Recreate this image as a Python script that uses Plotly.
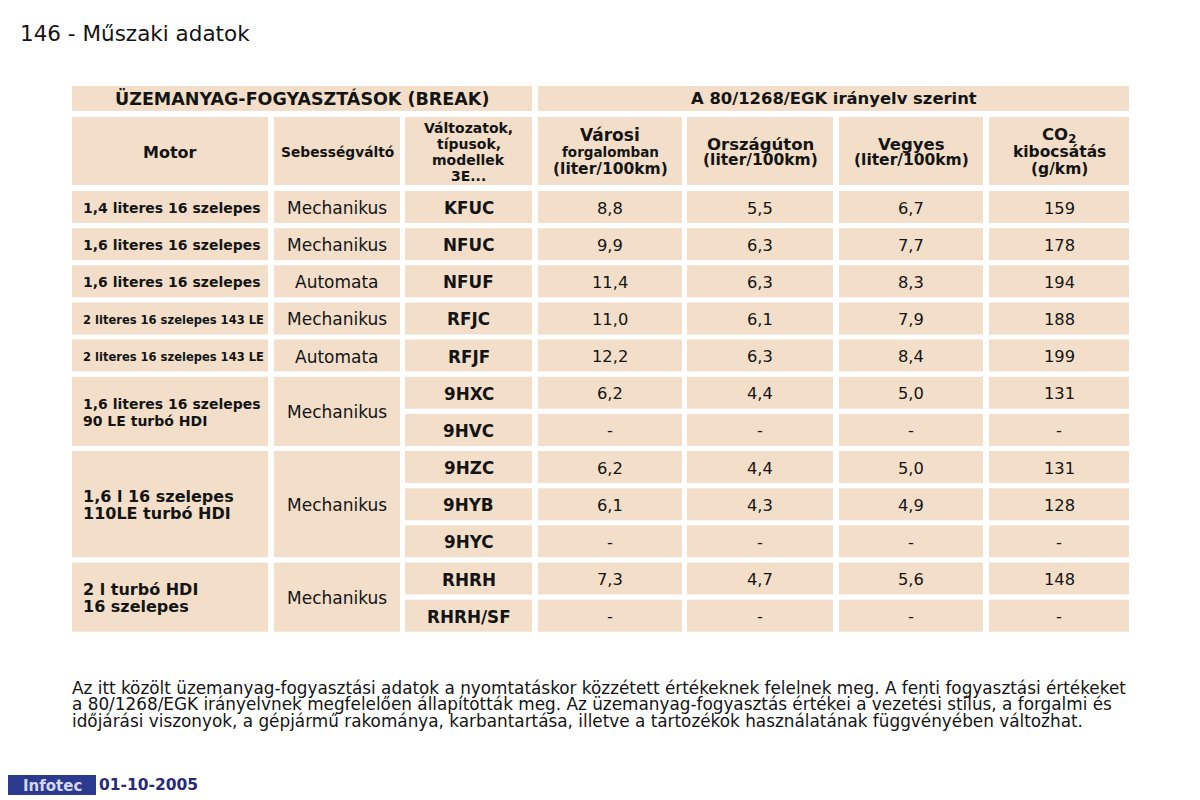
import plotly.graph_objects as go

# ---- table content ----
page_title = "146 - Műszaki adatok"
title_left = "ÜZEMANYAG-FOGYASZTÁSOK (BREAK)"
title_right = "A 80/1268/EGK irányelv szerint"

header_labels = [
    ["Motor"],
    ["Sebességváltó"],
    ["Változatok,", "típusok,", "modellek", "3E..."],
    ["Városi", "forgalomban", "(liter/100km)"],
    ["Országúton", "(liter/100km)"],
    ["Vegyes", "(liter/100km)"],
    ["CO<sub>2</sub>", "kibocsátás", "(g/km)"],
]

motor_labels = [
    ["1,4 literes 16 szelepes"],
    ["1,6 literes 16 szelepes"],
    ["1,6 literes 16 szelepes"],
    ["2 literes 16 szelepes 143 LE"],
    ["2 literes 16 szelepes 143 LE"],
    ["1,6 literes 16 szelepes", "90 LE turbó HDI"],
    ["1,6 l 16 szelepes", "110LE turbó HDI"],
    ["2 l turbó HDI", "16 szelepes"],
]
motor_spans = [1, 1, 1, 1, 1, 2, 3, 2]
gearboxes = ["Mechanikus", "Mechanikus", "Automata", "Mechanikus",
             "Automata", "Mechanikus", "Mechanikus", "Mechanikus"]

codes = ["KFUC", "NFUC", "NFUF", "RFJC", "RFJF", "9HXC", "9HVC",
         "9HZC", "9HYB", "9HYC", "RHRH", "RHRH/SF"]
varosi = [8.8, 9.9, 11.4, 11.0, 12.2, 6.2, None, 6.2, 6.1, None, 7.3, None]
orszaguton = [5.5, 6.3, 6.3, 6.1, 6.3, 4.4, None, 4.4, 4.3, None, 4.7, None]
vegyes = [6.7, 7.7, 8.3, 7.9, 8.4, 5.0, None, 5.0, 4.9, None, 5.6, None]
co2 = [159, 178, 194, 188, 199, 131, None, 131, 128, None, 148, None]

footnote_lines = [
    "Az itt közölt üzemanyag-fogyasztási adatok a nyomtatáskor közzétett értékeknek felelnek meg. A fenti fogyasztási értékeket",
    "a 80/1268/EGK irányelvnek megfelelően állapították meg. Az üzemanyag-fogyasztás értékei a vezetési stílus, a forgalmi és",
    "időjárási viszonyok, a gépjármű rakománya, karbantartása, illetve a tartozékok használatának függvényében változhat.",
]
logo_text = "Infotec"
date_text = "01-10-2005"

# ---- layout geometry ----
col_x0 = [72, 274, 405, 538, 687, 839, 989]
col_x1 = [268, 400, 532, 682, 833, 983, 1129]
title_y = (86, 111)
header_y = (117, 185)
row_top0 = 191
row_pitch = 37.15
row_h = 32

FILL = "#f3dfc9"
TXT = "#141414"
FONT = "DejaVu Sans"


def fmt(v, dec=1):
    if v is None:
        return "-"
    if dec == 0:
        return str(v)
    return f"{v:.{dec}f}".replace(".", ",")


fig = go.Figure()
shapes = []
annots = []


def cell(x0, x1, y0, y1):
    shapes.append(dict(type="rect", xref="x", yref="y", x0=x0, x1=x1, y0=y0, y1=y1,
                       fillcolor=FILL, line=dict(width=0), layer="below"))


def text(s, x, y, size, bold=False, anchor="center", color=TXT, family=FONT):
    if bold:
        s = "<b>" + s + "</b>"
    annots.append(dict(x=x, y=y, xref="x", yref="y", text=s, showarrow=False,
                       xanchor=anchor, yanchor="middle",
                       font=dict(family=family, size=size, color=color)))


def lines(ls, x, yc, pitch, size, bold=False, anchor="center", sizes=None, family=FONT):
    n = len(ls)
    for i, s in enumerate(ls):
        sz = sizes[i] if sizes else size
        text(s, x, yc + (i - (n - 1) / 2) * pitch, sz, bold, anchor, family=family)


# title row
cell(col_x0[0], col_x1[2], *title_y)
cell(col_x0[3], col_x1[6], *title_y)
ty = sum(title_y) / 2
text(title_left, (col_x0[0] + col_x1[2]) / 2, ty, 17.5, True)
text(title_right, (col_x0[3] + col_x1[6]) / 2, ty, 16.4, True)

# header row
hy = (header_y[0] + header_y[1]) / 2 + 1
header_sizes = [
    [16], [13.8], [14, 14, 14, 14], [17, 13.5, 15.5], [16.5, 15.5], [16.5, 15.5], [16.5, 15.5, 15.5]
]
for c, lab in enumerate(header_labels):
    cell(col_x0[c], col_x1[c], *header_y)
    pitch = 16 if len(lab) != 3 else 17
    lines(lab, (col_x0[c] + col_x1[c]) / 2, hy, pitch, 15, True, sizes=header_sizes[c])


def row_top(i):
    return row_top0 + i * row_pitch


# motor + gearbox (merged cells)
r = 0
for g, (lab, span, gb) in enumerate(zip(motor_labels, motor_spans, gearboxes)):
    y0 = row_top(r)
    y1 = row_top(r + span - 1) + row_h
    yc = (y0 + y1) / 2 + 1
    cell(col_x0[0], col_x1[0], y0, y1)
    cell(col_x0[1], col_x1[1], y0, y1)
    if lab[0].startswith("2 literes"):
        lines(lab, col_x0[0] + 9, yc, 17, 12.8, True, anchor="left",
              family="DejaVu Sans Condensed, Liberation Sans Narrow, DejaVu Sans")
    elif g >= 6:
        lines(lab, col_x0[0] + 9, yc, 17, 16, True, anchor="left")
    else:
        lines(lab, col_x0[0] + 9, yc, 17, 14, True, anchor="left")
    text(gb, (col_x0[1] + col_x1[1]) / 2, yc, 17)
    r += span

# per-row cells
value_cols = [
    codes,
    [fmt(v) for v in varosi],
    [fmt(v) for v in orszaguton],
    [fmt(v) for v in vegyes],
    [fmt(v, 0) for v in co2],
]
for i in range(len(codes)):
    y0 = row_top(i)
    yc = y0 + row_h / 2 + 1
    for k, vals in enumerate(value_cols):
        c = k + 2
        cell(col_x0[c], col_x1[c], y0, y0 + row_h)
        if k == 0:
            text(vals[i], (col_x0[c] + col_x1[c]) / 2, yc, 16.8, True)
        else:
            text(vals[i], (col_x0[c] + col_x1[c]) / 2, yc, 16.3)

# page title
text(page_title, 18, 33, 21.5, anchor="left")

# footnote
for i, s in enumerate(footnote_lines):
    text(s, 70, 687.5 + i * 16.5, 16.85, anchor="left")

# footer logo + date
shapes.append(dict(type="rect", xref="x", yref="y", x0=8, x1=96, y0=775, y1=795,
                   fillcolor="#2b3a8f", line=dict(width=0), layer="below"))
text(logo_text, 52, 785.5, 15, True, color="#d4d8ef")
text(date_text, 97, 785, 15.5, True, anchor="left", color="#262a78")

fig.update_layout(
    width=1200, height=800,
    margin=dict(l=0, r=0, t=0, b=0),
    paper_bgcolor="white", plot_bgcolor="white",
    xaxis=dict(range=[0, 1200], visible=False, fixedrange=True),
    yaxis=dict(range=[800, 0], visible=False, fixedrange=True),
    shapes=shapes, annotations=annots,
    showlegend=False,
)

# drop the default page margin so the figure sits at the window's top-left corner
fig.write_html("out.html", config={"displayModeBar": False},
               post_script="document.body.style.margin='0';")
